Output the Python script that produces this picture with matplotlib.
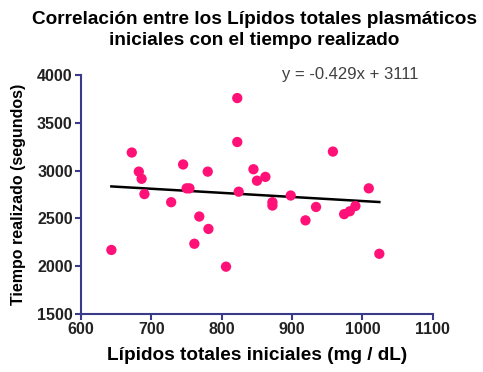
import matplotlib
matplotlib.use("Agg")
import matplotlib.pyplot as plt
import numpy as np

plt.rcParams.update({
    "font.family": ["Liberation Sans", "DejaVu Sans"],
    "figure.facecolor": "white",
    "axes.facecolor": "white",
})

# Lipidos totales iniciales (mg/dL) vs tiempo realizado (s)
lipidos = [643, 672, 682, 686, 690, 728, 745, 750, 754, 761, 768, 780, 781,
           806, 822, 822, 824, 845, 850, 862, 872, 872, 898, 919, 934, 958,
           974, 982, 990, 1009, 1024]
tiempo = [2170, 3190, 2990, 2915, 2755, 2670, 3065, 2815, 2815, 2235, 2520,
          2990, 2390, 1995, 3760, 3300, 2780, 3015, 2895, 2935, 2670, 2635,
          2740, 2480, 2620, 3200, 2545, 2575, 2630, 2815, 2130]

slope = -0.429
intercept = 3111
eq_label = "y = -0.429x + 3111"

xticks = [600, 700, 800, 900, 1000, 1100]
yticks = [1500, 2000, 2500, 3000, 3500, 4000]

axis_color = "#3a3a8a"
dot_color = "#ff1177"

fig = plt.figure(figsize=(4.83, 3.72), dpi=100)
ax = fig.add_axes([0.168, 0.156, 0.728, 0.642])

ax.scatter(lipidos, tiempo, s=55, color=dot_color, edgecolors="none", zorder=3)

xl = np.array([min(lipidos), max(lipidos)])
ax.plot(xl, slope * xl + intercept, color="black", lw=1.8, zorder=2)

ax.set_xlim(600, 1100)
ax.set_ylim(1500, 4000)
ax.set_xticks(xticks)
ax.set_yticks(yticks)

for side in ["top", "right"]:
    ax.spines[side].set_visible(False)
for side in ["left", "bottom"]:
    ax.spines[side].set_color(axis_color)
    ax.spines[side].set_linewidth(1.5)

ax.tick_params(direction="out", length=4, width=1.5, color=axis_color,
               labelsize=11.5, pad=2)
for lbl in ax.get_xticklabels() + ax.get_yticklabels():
    lbl.set_fontweight("bold")
    lbl.set_color("#222222")

ax.set_xlabel("Lípidos totales iniciales (mg / dL)", fontsize=13.7,
              fontweight="bold", labelpad=7)
ax.set_ylabel("Tiempo realizado (segundos)", fontsize=11.5,
              fontweight="bold", labelpad=8)

ax.text(0.571, 1.004, eq_label, transform=ax.transAxes, ha="left",
        va="center", fontsize=12, color="#404040")

fig.text(0.527, 0.97, "Correlación entre los Lípidos totales plasmáticos\n"
         "iniciales con el tiempo realizado", ha="center", va="top",
         fontsize=13.7, fontweight="bold", linespacing=1.3)

fig.savefig("out.png", dpi=100, facecolor="white")
plt.close(fig)
